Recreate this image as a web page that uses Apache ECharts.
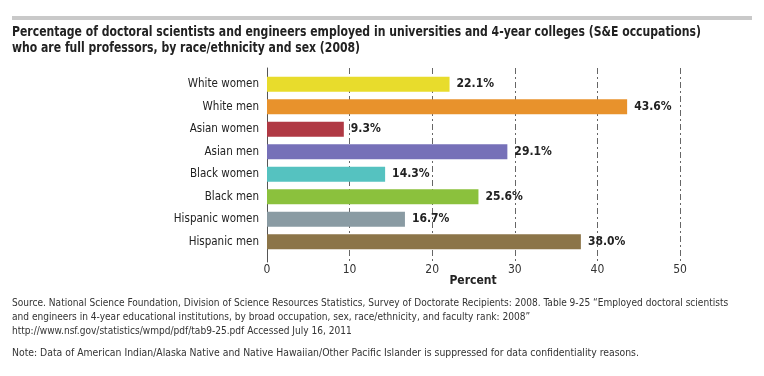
<!DOCTYPE html>
<html>
<head>
<meta charset="utf-8">
<script src="https://cdn.jsdelivr.net/npm/echarts@6/dist/echarts.min.js"></script>
<style>
  html, body { margin: 0; padding: 0; background: #fff; }
  #main { width: 764px; height: 376px; }
</style>
</head>
<body>
<div id="main"></div>
<script>
var categories = ['White women', 'White men', 'Asian women', 'Asian men',
  'Black women', 'Black men', 'Hispanic women', 'Hispanic men'];
var values = [22.1, 43.6, 9.3, 29.1, 14.3, 25.6, 16.7, 38.0];
var barColors = ['#e8dc2c', '#e8922c', '#b03944', '#7670b8',
  '#55c2c0', '#8bc13d', '#8a9ba3', '#8c7549'];
var xTicks = [0, 10, 20, 30, 40, 50];

var font = '"Liberation Sans Narrow", "DejaVu Sans Condensed", sans-serif';

var chart = echarts.init(document.getElementById('main'));

var option = {
  animation: false,
  textStyle: { fontFamily: font },
  graphic: [
    { type: 'rect', shape: { x: 12, y: 16, width: 740, height: 4 }, style: { fill: '#c9c9c9' } },
    { type: 'text', x: 12, y: 24, scaleX: 0.895, style: {
        text: 'Percentage of doctoral scientists and engineers employed in universities and 4-year colleges (S&E occupations)\nwho are full professors, by race/ethnicity and sex (2008)',
        font: 'bold 13.5px ' + font, fill: '#222', lineHeight: 16 } },
    // axis title
    { type: 'text', x: 473, y: 281, style: {
        text: 'Percent', font: 'bold 12px ' + font, fill: '#222',
        align: 'center', verticalAlign: 'middle' } },
    { type: 'text', x: 12, y: 296, scaleX: 0.915, style: {
        text: 'Source. National Science Foundation, Division of Science Resources Statistics, Survey of Doctorate Recipients: 2008. Table 9-25 \u201cEmployed doctoral scientists\nand engineers in 4-year educational institutions, by broad occupation, sex, race/ethnicity, and faculty rank: 2008\u201d\nhttp://www.nsf.gov/statistics/wmpd/pdf/tab9-25.pdf Accessed July 16, 2011',
        font: '11px ' + font, fill: '#333', lineHeight: 14 } },
    { type: 'text', x: 12, y: 348, scaleX: 0.94, style: {
        text: 'Note: Data of American Indian/Alaska Native and Native Hawaiian/Other Pacific Islander is suppressed for data confidentiality reasons.',
        font: '11px ' + font, fill: '#333' } }
  ],
  grid: [
    { left: 267, right: 84, top: 73, height: 180 },
    { left: 267, right: 84, top: 68, bottom: 114 }
  ],
  xAxis: [
    { gridIndex: 0, type: 'value', min: 0, max: 50, show: false },
    { gridIndex: 1, type: 'value', min: xTicks[0], max: xTicks[xTicks.length - 1], interval: 10,
      axisLine: { show: false }, axisTick: { show: false },
      axisLabel: { color: '#333', fontSize: 12, margin: 2, fontFamily: font },
      splitLine: { show: true, lineStyle: { color: '#666', type: [6, 3, 2, 3], width: 1 } } }
  ],
  yAxis: [
    { gridIndex: 0, type: 'category', data: categories, inverse: true,
      axisLine: { show: false }, axisTick: { show: false },
      axisLabel: { color: '#222', fontSize: 11.5, margin: 8, fontFamily: font } },
    { gridIndex: 1, type: 'value', min: 0, max: 1,
      axisLine: { show: true, lineStyle: { color: '#555', width: 1 } },
      axisTick: { show: false }, axisLabel: { show: false }, splitLine: { show: false } }
  ],
  series: [{
    type: 'bar',
    xAxisIndex: 0, yAxisIndex: 0,
    barWidth: 15,
    z: 3,
    data: values.map(function (v, i) {
      return { value: v, itemStyle: { color: barColors[i] } };
    }),
    label: {
      show: true, position: 'right', distance: 7,
      formatter: function (p) { return p.value.toFixed(1) + '%'; },
      fontWeight: 'bold', fontSize: 12, color: '#222', fontFamily: font
    }
  }]
};

chart.setOption(option);
</script>
</body>
</html>
